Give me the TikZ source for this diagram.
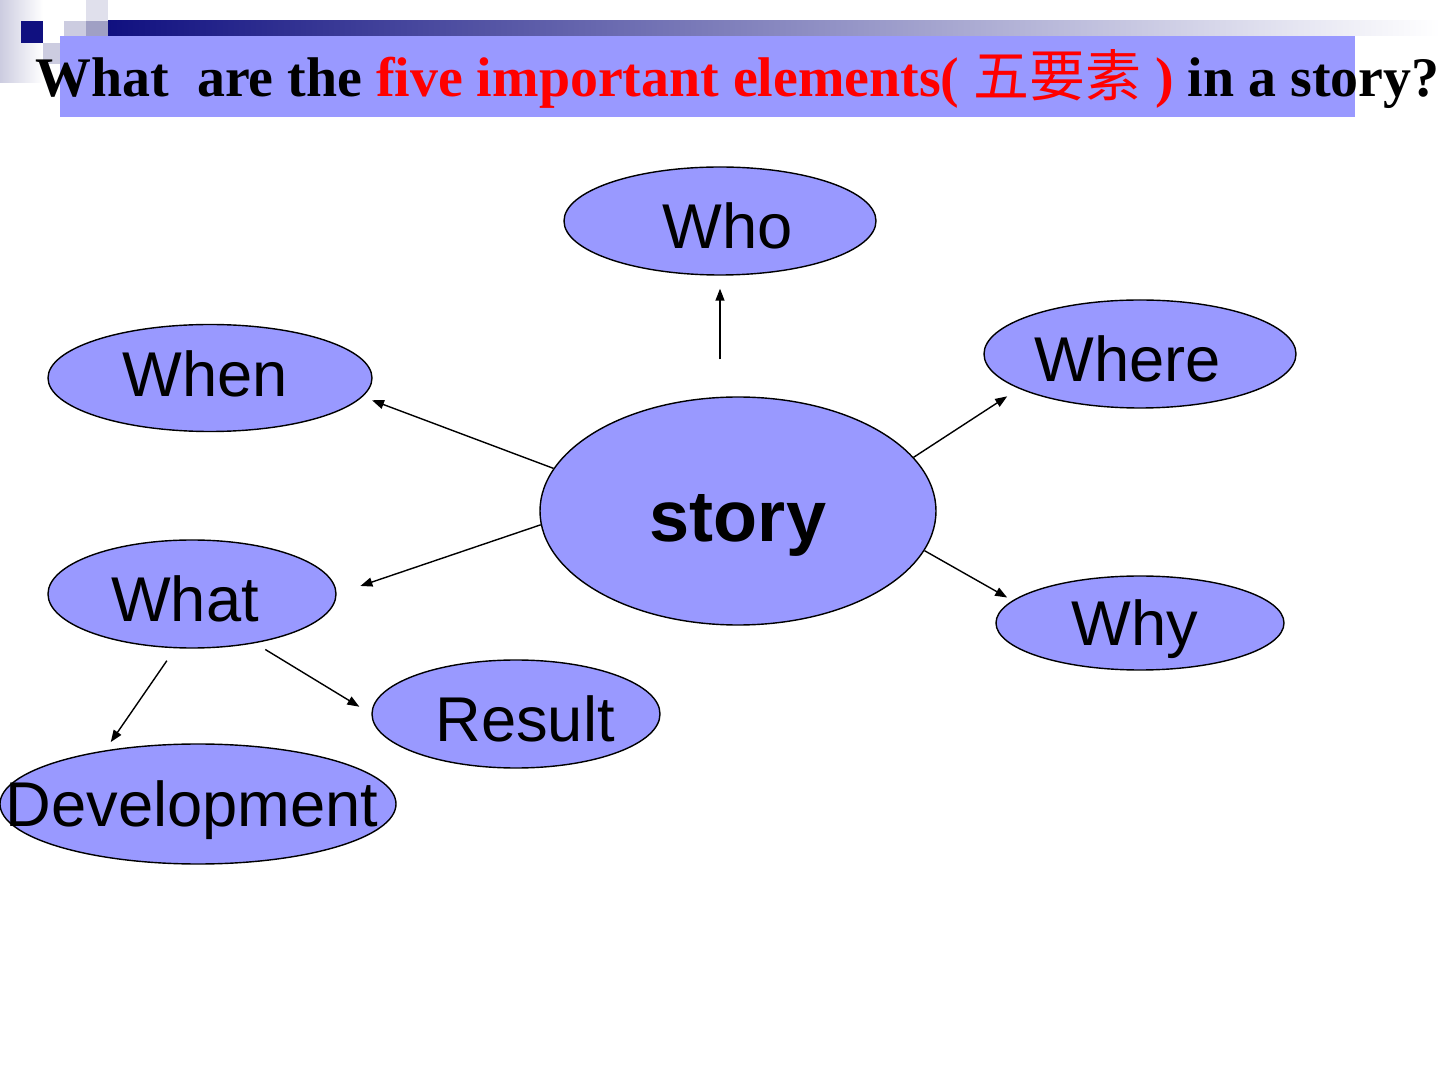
\documentclass[tikz,border=0pt]{standalone}
\usepackage{fontspec}
\setmainfont{Liberation Serif}
\setsansfont{Liberation Sans}
\newfontfamily\cjkfont{Noto Sans CJK SC}
\usetikzlibrary{%
	arrows.meta,%
	shapes.geometric,%
}
\definecolor{clavender}{RGB}{153, 153, 255}
\definecolor{cnavy}{RGB}{16, 16, 128}
\definecolor{cgreylight}{RGB}{204, 204, 224}
\definecolor{cgreymid}{RGB}{160, 160, 196}
\definecolor{cred}{RGB}{255, 0, 0}
\tikzset{
	>={Triangle[length=1.2mm, width=0.9mm]},%
	elemnode/.style={%
			draw,%
			ellipse,%
			fill=clavender,%
			inner sep=0,%
			text height=17.1pt,%
			text depth=1.3pt,%
			font={\sffamily\fontsize{18}{20}\selectfont}},%
	storynode/.style={%
			elemnode,%
			text height=18pt,%
			text depth=0.4pt,%
			font={\sffamily\bfseries\fontsize{20.5}{22}\selectfont}},%
}
\newcommand{\elemname}[2][0pt]{\makebox[0pt]{\kern#1#2\kern-#1}}

\begin{document}
\begin{tikzpicture}
	\useasboundingbox (0,0) rectangle (14.4,-10.8);

	% slide corner and bar
	\shade[left color=cgreylight, right color=white] (0,0) rectangle (0.43,-0.83);
	\fill[cgreylight] (0.43,-0.43) rectangle (0.64,-0.64);
	\fill[cgreylight] (0.64,-0.21) rectangle (0.86,-0.43);
	\fill[cgreymid] (0.86,-0.21) rectangle (1.08,-0.43);
	\fill[cgreylight!60] (0.86,0) rectangle (1.08,-0.21);
	\fill[cnavy] (0.21,-0.21) rectangle (0.43,-0.43);
	\shade[left color=cnavy, right color=white] (1.08,-0.21) rectangle (14.4,-0.36);
	\fill[clavender] (0.60,-0.36) rectangle (13.55,-1.17);

	\node[anchor=base west, inner sep=0] (title) at (0.35,-0.97) {\fontsize{15.9}{19}\selectfont\bfseries
		What\ \ are the \textcolor{cred}{five important elements( {\cjkfont\mdseries 五要素} )} in a story?};

	\node[storynode, minimum width=3.96cm, minimum height=2.28cm] (story) at (7.38,-5.11) {\elemname{story}};
	\node[elemnode, minimum width=3.12cm, minimum height=1.08cm] (who) at (7.20,-2.21) {\elemname[0.8mm]{Who}};
	\node[elemnode, minimum width=3.24cm, minimum height=1.07cm, text height=12pt] (when) at (2.10,-3.78) {\elemname[-0.5mm]{When}};
	\node[elemnode, minimum width=3.12cm, minimum height=1.08cm] (where) at (11.40,-3.54) {\elemname[-1.2mm]{Where}};
	\node[elemnode, minimum width=2.88cm, minimum height=1.08cm] (what) at (1.92,-5.94) {\elemname[-0.7mm]{What}};
	\node[elemnode, minimum width=2.88cm, minimum height=0.94cm, text height=14.3pt] (why) at (11.40,-6.23) {\elemname[-0.5mm]{Why}};
	\node[elemnode, minimum width=2.88cm, minimum height=1.08cm] (result) at (5.16,-7.14) {\elemname[0.9mm]{Result}};
	\node[elemnode, minimum width=3.96cm, minimum height=1.20cm, text height=14.3pt] (dev) at (1.98,-8.04) {\elemname[-0.6mm]{Development}};

	\draw[->, shorten <=3.7mm, shorten >=1.3mm] (story.north -| who.south) -- (who.south);
	\draw[->, shorten >=1mm] (story.167) -- (when.-7);
	\draw[->, shorten >=1.4mm] (story.17) -- (where.196);
	\draw[->, shorten >=2.5mm] (story.184) -- (what.east);
	\draw[->, shorten >=0.6mm] (story.-12) -- (why.170);
	\draw[->, shorten <=1.5mm, shorten >=1mm] (what.253) -- (dev.150);
	\draw[->, shorten <=1.2mm, shorten >=1.4mm] (what.-38) -- (result.west);
\end{tikzpicture}
\end{document}
